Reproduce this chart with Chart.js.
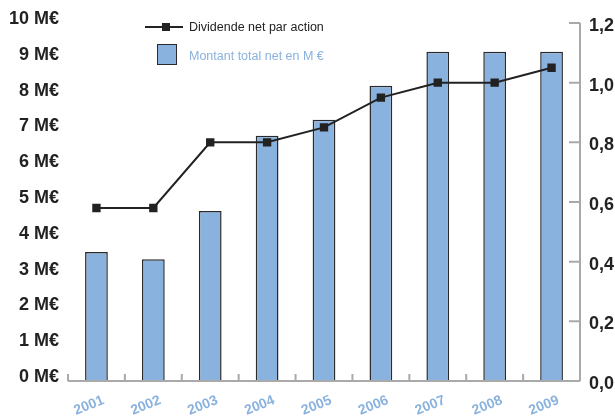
<!DOCTYPE html>
<html>
<head>
<meta charset="utf-8">
<script src="https://cdn.jsdelivr.net/npm/chart.js@4"></script>
<style>
  body { margin: 0; background: #fff; overflow: hidden; }
  #wrap { position: relative; width: 630px; height: 416px; }
  .lg { position: absolute; font-family: "Liberation Sans", Arial, sans-serif; font-size: 12.5px; white-space: nowrap; }
  .lg-line { position: absolute; left: 145px; top: 26px; width: 38px; height: 2px; background: #222; }
  .lg-dot { position: absolute; left: 162px; top: 23px; width: 8px; height: 8px; background: #222; }
  .lg-box { position: absolute; left: 157px; top: 44px; width: 18px; height: 19px; background: #8ab2de; border: 1.5px solid #2a2a2a; }
</style>
</head>
<body>
<div id="wrap">
  <canvas id="chart" width="630" height="416"></canvas>
  <div class="lg-line"></div>
  <div class="lg-dot"></div>
  <div class="lg" style="left:189px; top:20px; color:#222;">Dividende net par action</div>
  <div class="lg" style="left:189px; top:49px; color:#8ab2de;">Montant total net en M €</div>
  <div class="lg-box"></div>
</div>
<script>
const years = ["2001", "2002", "2003", "2004", "2005", "2006", "2007", "2008", "2009"];
// total net amount, M€
const totalNet = [3.6, 3.4, 4.75, 6.85, 7.3, 8.25, 9.2, 9.2, 9.2];
// net dividend per share, €
const dividend = [0.58, 0.58, 0.8, 0.8, 0.85, 0.95, 1.0, 1.0, 1.05];

const GREY = "#a9a9a9";
const BLUE = "#8ab2de";
const DARK = "#222";
const FONT = "'Liberation Sans', Arial, sans-serif";

// axis lines and little inner ticks, drawn over the bars
const axisMarks = {
  id: "axisMarks",
  afterDatasetsDraw(chart) {
    const { ctx, chartArea, scales } = chart;
    const { left, right, top, bottom } = chartArea;
    ctx.save();
    ctx.strokeStyle = GREY;
    ctx.lineWidth = 2;
    ctx.beginPath();
    ctx.moveTo(left, bottom);
    ctx.lineTo(right, bottom);
    ctx.moveTo(right, top);
    ctx.lineTo(right, bottom);
    const step = chartArea.width / years.length;
    for (let i = 0; i < years.length; i++) {
      const x = left + i * step;
      ctx.moveTo(x, bottom);
      ctx.lineTo(x, bottom - 7);
    }
    scales.y1.ticks.forEach((t) => {
      const y = scales.y1.getPixelForValue(t.value);
      ctx.moveTo(right - 11, y);
      ctx.lineTo(right, y);
    });
    ctx.stroke();
    ctx.restore();
  },
};

const ctx = document.querySelector("#chart").getContext("2d");

const myChart = new Chart(ctx, {
  type: "bar",
  data: {
    labels: years,
    datasets: [
      {
        type: "line",
        label: "Dividende net par action",
        data: dividend,
        yAxisID: "y1",
        borderColor: DARK,
        borderWidth: 2,
        pointStyle: "rect",
        pointRadius: 4.5,
        pointBackgroundColor: DARK,
        pointBorderColor: DARK,
        tension: 0,
        order: 0,
      },
      {
        label: "Montant total net en M €",
        data: totalNet,
        yAxisID: "y",
        backgroundColor: BLUE,
        borderColor: "#2a2a2a",
        borderWidth: 1.5,
        barPercentage: 0.4,
        categoryPercentage: 1,
        order: 1,
      },
    ],
  },
  options: {
    responsive: false,
    animation: false,
    layout: { padding: { top: 23, left: 0, right: 0, bottom: 0 } },
    plugins: { legend: { display: false }, tooltip: { enabled: false } },
    scales: {
      x: {
        grid: { display: false, drawTicks: false },
        border: { display: false },
        ticks: {
          color: BLUE,
          font: { family: FONT, size: 14, weight: "bold" },
          minRotation: 22,
          maxRotation: 22,
          labelOffset: 7,
          padding: 11,
        },
        afterFit: (scale) => { scale.height = 35; },
      },
      y: {
        position: "left",
        min: 0,
        max: 10,
        grid: { display: false, drawTicks: false },
        border: { display: false },
        ticks: {
          stepSize: 1,
          color: DARK,
          font: { family: FONT, size: 18, weight: "bold" },
          padding: 9,
          labelOffset: -4,
          callback: (v) => v + " M€",
        },
        afterFit: (scale) => { scale.width = 68; },
      },
      y1: {
        position: "right",
        min: 0,
        max: 1.2,
        grid: { display: false, drawTicks: false },
        border: { display: false },
        ticks: {
          stepSize: 0.2,
          color: DARK,
          font: { family: FONT, size: 18, weight: "bold" },
          padding: 9,
          labelOffset: 3,
          callback: (v) => v.toFixed(1).replace(".", ","),
        },
        afterFit: (scale) => { scale.width = 50; },
      },
    },
  },
  plugins: [axisMarks],
});
</script>
</body>
</html>
